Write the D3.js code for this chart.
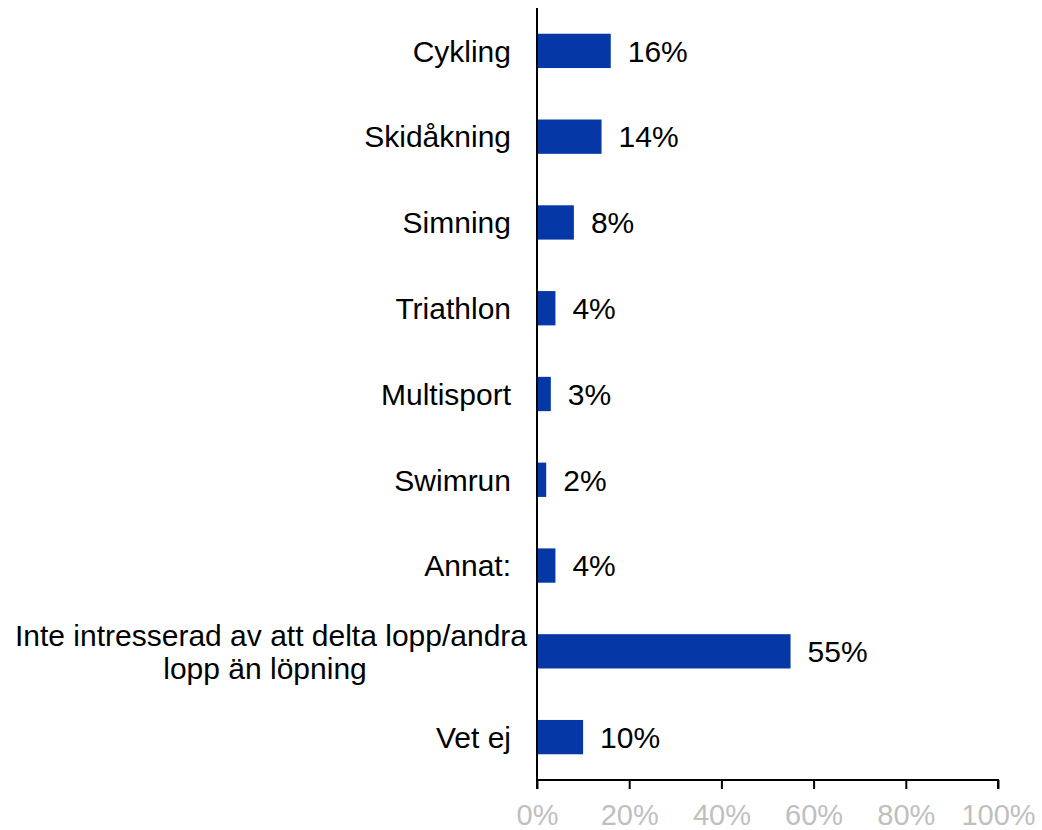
<!DOCTYPE html>
<html>
<head>
<meta charset="utf-8">
<script src="https://cdn.jsdelivr.net/npm/d3@7"></script>
<style>
  html, body { margin: 0; padding: 0; background: #fff; }
  text { font-family: "Liberation Sans", Arial, sans-serif; }
</style>
</head>
<body>
<svg id="chart" width="1042" height="830"></svg>
<script>
// Survey answers: other sports of interest besides running
const categories = [
  "Cykling",
  "Skidåkning",
  "Simning",
  "Triathlon",
  "Multisport",
  "Swimrun",
  "Annat:",
  "Inte intresserad av att delta lopp/andra\nlopp än löpning",
  "Vet ej"
];
const values = [16, 14, 8, 4, 3, 2, 4, 55, 10];
const tickValues = [0, 20, 40, 60, 80, 100];

const svg = d3.select("#chart");
const x0 = 537, x1 = 998, yTop = 8, yBottom = 780;
const fontSize = 30;

const x = d3.scaleLinear().domain([0, 100]).range([x0, x1]);
const y = d3.scaleBand().domain(categories).range([yTop, yBottom]).paddingInner(0.6).paddingOuter(0.3);

// Bars
svg.append("g").selectAll("rect")
  .data(categories)
  .join("rect")
  .attr("x", x(0))
  .attr("y", d => y(d))
  .attr("width", (d, i) => x(values[i]) - x(0))
  .attr("height", y.bandwidth())
  .attr("fill", "#0538a6");

// Value labels
svg.append("g").selectAll("text")
  .data(categories)
  .join("text")
  .attr("x", (d, i) => x(values[i]) + 17)
  .attr("y", d => y(d) + y.bandwidth() / 2)
  .attr("dy", "0.36em")
  .attr("font-size", fontSize)
  .attr("fill", "#000")
  .text((d, i) => values[i] + "%");

// Category labels (multi-line labels are centred line by line)
const catG = svg.append("g");
categories.forEach(c => {
  const lines = c.split("\n");
  const cy = y(c) + y.bandwidth() / 2;
  const lh = 33;
  if (lines.length === 1) {
    catG.append("text")
      .attr("x", x0 - 26)
      .attr("y", cy)
      .attr("dy", "0.36em")
      .attr("text-anchor", "end")
      .attr("font-size", fontSize)
      .text(c);
  } else {
    const t = catG.append("text")
      .attr("font-size", fontSize)
      .attr("text-anchor", "middle");
    const tmp = t.append("tspan").text(lines[0]);
    const w = tmp.node().getComputedTextLength();
    tmp.remove();
    const cx = x0 - 10 - w / 2;
    lines.forEach((ln, i) => {
      t.append("tspan")
        .attr("x", i === 0 ? cx : cx - 6)
        .attr("y", cy + (i - (lines.length - 1) / 2) * lh)
        .attr("dy", "0.36em")
        .text(ln);
    });
  }
});

// Vertical category axis line
svg.append("line")
  .attr("x1", x0).attr("x2", x0)
  .attr("y1", yTop).attr("y2", yBottom)
  .attr("stroke", "#000").attr("stroke-width", 2);

// Bottom value axis
const xAxis = d3.axisBottom(x)
  .tickValues(tickValues)
  .tickSize(9)
  .tickFormat(d => d + "%");
const ax = svg.append("g")
  .attr("transform", `translate(0,${yBottom})`)
  .call(xAxis);
ax.select(".domain").attr("stroke", "#000").attr("stroke-width", 2).attr("d", `M${x0},9V0H${x1}V9`);
ax.selectAll(".tick line").attr("stroke", "#000").attr("stroke-width", 2);
ax.selectAll(".tick text")
  .attr("font-size", 29)
  .attr("font-family", "'Liberation Sans', Arial, sans-serif")
  .attr("fill", "#bfbfbf")
  .attr("y", 45)
  .attr("dy", 0);
</script>
</body>
</html>
